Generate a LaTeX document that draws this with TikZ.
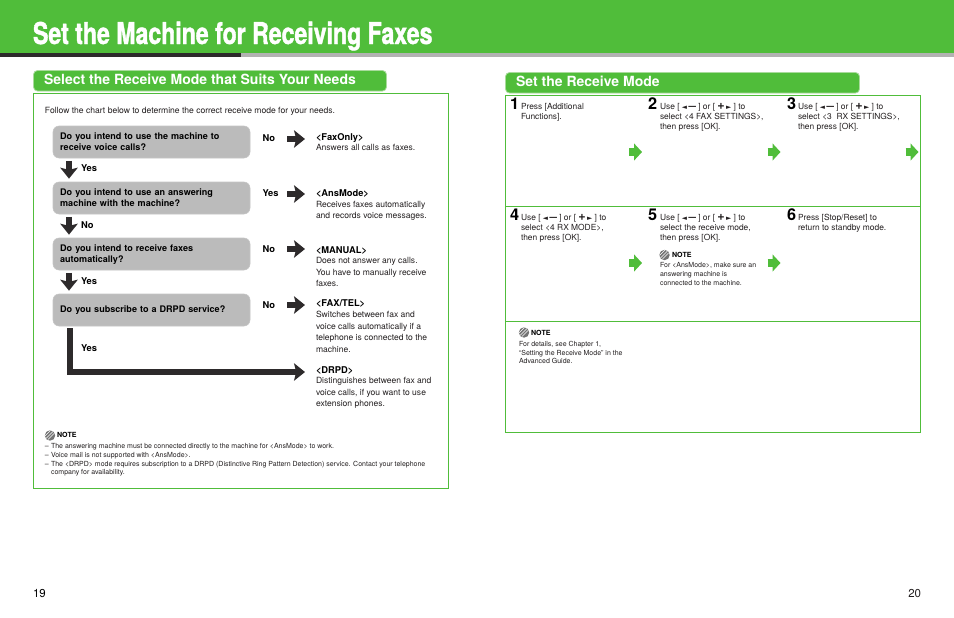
\documentclass[tikz,border=0pt]{standalone}
\usepackage{fontspec}
\usepackage{graphicx}
\usetikzlibrary{arrows.meta,calc}
\setmainfont{TeX Gyre Heros}
\newfontfamily\titlefont[FakeStretch=0.77,FakeBold=1.3]{TeX Gyre Heros Bold}
\newfontfamily\symfont{DejaVu Sans}
\definecolor{cgreen}{HTML}{50BD3A}
\definecolor{crim}{HTML}{A9DB9C}
\definecolor{cdark}{HTML}{2D2A2B}
\definecolor{cstrip}{HTML}{B2B2B2}
\definecolor{cq}{HTML}{BBBBBB}
\definecolor{ctext}{HTML}{231F20}
\newcommand{\keyL}{{\symfont\scalebox{0.8}{◄}}\,{\bfseries\scalebox{1.6}[1.2]{–}}}
\newcommand{\keyR}{{\bfseries\scalebox{1.5}{+}}\,{\symfont\scalebox{0.8}{►}}}
\tikzset{
  x=0.75pt,y=-0.75pt,
  every node/.style={inner sep=0pt,outer sep=0pt,text=ctext},
  frame/.style={draw=cgreen,line width=0.75pt},
  headbar/.style={fill=cgreen,draw=crim,line width=0.6pt,rounded corners=3pt},
  headtext/.style={anchor=base west,text=white,font=\fontsize{10.5}{12}\selectfont\bfseries},
  qbox/.style={fill=cq,draw=cq!85!white,line width=0.4pt,rounded corners=4.5pt,minimum width=147.75pt,minimum height=24pt,
     text width=137pt,align=left,font=\fontsize{6.8}{8.2}\selectfont\bfseries,text=black},
  bl/.style={anchor=base west,font=\fontsize{7}{8}\selectfont\bfseries,text=black},
  modetitle/.style={anchor=base west,font=\fontsize{7}{8}\selectfont\bfseries,text=black},
  body/.style={anchor=north west,align=left,font=\fontsize{6.4}{8.6}\selectfont},
  steptext/.style={anchor=north west,align=left,font=\fontsize{6.3}{7.5}\selectfont},
  notetext/.style={anchor=north west,align=left,font=\fontsize{5.25}{6.6}\selectfont},
  notehead/.style={anchor=base west,font=\fontsize{5.3}{6}\selectfont\bfseries,text=black},
  stepnum/.style={anchor=base west,font=\fontsize{12.2}{13}\selectfont\bfseries,text=black},
  blockarrow/.style={draw=cdark,line width=4.2pt,-{Stealth[inset=1.6pt,length=8.2pt,width=13pt]}},
  greenarrow/.style={draw=cgreen,line width=6pt,-{Triangle[length=6pt,width=12.6pt]}},
  notemark/.pic={
    \fill[black!55] (0,0) circle[radius=3.9pt];
    \draw[white,line width=0.45pt] (-4,3) -- (3,-4) (-2,4) -- (4,-2) (-5,0.5) -- (0.5,-5);
  }
}
\begin{document}
\begin{tikzpicture}
\useasboundingbox (0,0) rectangle (954,618);
\fill[white] (0,0) rectangle (954,618);
% banner
\fill[cgreen] (0,0) rectangle (954,53);
\fill[cdark] (0,53) rectangle (241,57);
\fill[cstrip] (241,53) rectangle (954,57);
\node[anchor=base west,text=white,font=\fontsize{22.5}{24}\titlefont] (title) at (33,44) {Set the Machine for Receiving Faxes};
% left
\path[headbar] (33.5,70.5) rectangle (386.5,91);
\node[headtext] (h1) at (44,84) {Select the Receive Mode that Suits Your Needs};
\draw[frame] (33.5,93.5) rectangle (448.5,488.5);
\node[anchor=base west,font=\fontsize{6.42}{7}\selectfont] (intro) at (45,113) {Follow the chart below to determine the correct receive mode for your needs.};
\node[qbox,anchor=north west] (q1) at (53,126) {Do you intend to use the machine to\\receive voice calls?};
\node[qbox,anchor=north west] (q2) at (53,182) {Do you intend to use an answering\\machine with the machine?};
\node[qbox,anchor=north west] (q3) at (53,238) {\rule{0pt}{5.6pt}Do you intend to receive faxes\\automatically?};
\node[qbox,anchor=north west] (q4) at (53,294) {Do you subscribe to a DRPD service?};
\node[bl] (y1) at (81,171) {Yes};
\node[bl] (y2) at (81,228) {No};
\node[bl] (y3) at (81,284) {Yes};
\node[bl] (y4) at (81,351) {Yes};
\node[bl] (a1) at (262.5,141.5) {No};
\node[bl] (a2) at (262.5,196) {Yes};
\node[bl] (a3) at (262.5,252) {No};
\node[bl] (a4) at (262.5,308.5) {No};
\node[modetitle] (m1) at (316,140) {<FaxOnly>};
\node[body] (d1) at (316,144.5) {Answers all calls as faxes.};
\node[modetitle] (m2) at (316,196) {<AnsMode>};
\node[body] (d2) at (316,201) {Receives faxes automatically\\and records voice messages.};
\node[modetitle] (m3) at (316,253) {<MANUAL>};
\node[body] (d3) at (316,257.5) {Does not answer any calls.\\You have to manually receive\\faxes.};
\node[modetitle] (m4) at (316,306) {<FAX/TEL>};
\node[body] (d4) at (316,311.5) {Switches between fax and\\voice calls automatically if a\\telephone is connected to the\\machine.};
\node[modetitle] (m5) at (316,373) {<DRPD>};
\node[body] (d5) at (316,377.5) {Distinguishes between fax and\\voice calls, if you want to use\\extension phones.};
% flow arrows
\draw[blockarrow] ([xshift=12pt,yshift=-2.2pt]q1.south west) -- ([xshift=12pt,yshift=2.5pt]q2.north west);
\draw[blockarrow] ([xshift=12pt,yshift=-2.2pt]q2.south west) -- ([xshift=12pt,yshift=2.5pt]q3.north west);
\draw[blockarrow] ([xshift=12pt,yshift=-2.2pt]q3.south west) -- ([xshift=12pt,yshift=2.5pt]q4.north west);
\coordinate (r1s) at (287,139); \coordinate (r2s) at (287,194); \coordinate (r3s) at (287,249); \coordinate (r4s) at (287,305);
\coordinate (r1e) at (305,139); \coordinate (r2e) at (305,194); \coordinate (r3e) at (305,249); \coordinate (r4e) at (305,305);
\draw[blockarrow] (r1s) -- (r1e);
\draw[blockarrow] (r2s) -- (r2e);
\draw[blockarrow] (r3s) -- (r3e);
\draw[blockarrow] (r4s) -- (r4e);
\coordinate (d5e) at (305,372);
\draw[blockarrow,line join=miter] ([xshift=12.75pt,yshift=-1.6pt]q4.south west) |- (d5e);
% left note
\pic at (50,435.5) {notemark};
\node[notehead] (n1h) at (57,437.5) {NOTE};
\node[notetext,anchor=base west] (n1d1) at (45,448) {–};
\node[notetext,anchor=base west] (n1a) at (51,448) {The answering machine must be connected directly to the machine for <AnsMode> to work.};
\node[notetext,anchor=base west] (n1d2) at (45,457) {–};
\node[notetext,anchor=base west] (n1b) at (51,457) {Voice mail is not supported with <AnsMode>.};
\node[notetext,anchor=base west] (n1d3) at (45,466) {–};
\node[notetext,anchor=base west] (n1c) at (51,466) {The <DRPD> mode requires subscription to a DRPD (Distinctive Ring Pattern Detection) service. Contact your telephone};
\node[notetext,anchor=base west] (n1e) at (51,474.5) {company for availability.};
% right
\path[headbar] (505.5,72.5) rectangle (859.5,93);
\node[headtext] (h2) at (516,86) {Set the Receive Mode};
\draw[frame] (505.5,95.5) rectangle (920.5,432.5);
\draw[frame] (505.5,206.5) -- (920.5,206.5);
\draw[frame] (505.5,321.5) -- (920.5,321.5);
\node[stepnum] (s1) at (510,109.5) {1};
\node[stepnum] (s2) at (648,109.5) {2};
\node[stepnum] (s3) at (787,109.5) {3};
\node[stepnum] (s4) at (510,220.5) {4};
\node[stepnum] (s5) at (648,220.5) {5};
\node[stepnum] (s6) at (787,220.5) {6};
\node[steptext] (t1) at (521,103) {Press [Additional\\Functions].};
\node[steptext] (t2) at (660,103) {Use [ \keyL\ ] or [ \keyR\ ] to\\select <4 FAX SETTINGS>,\\then press [OK].};
\node[steptext] (t3) at (798,103) {Use [ \keyL\ ] or [ \keyR\ ] to\\select <3\ \ RX SETTINGS>,\\then press [OK].};
\node[steptext] (t4) at (521,214) {Use [ \keyL\ ] or [ \keyR\ ] to\\select <4 RX MODE>,\\then press [OK].};
\node[steptext] (t5) at (660,214) {Use [ \keyL\ ] or [ \keyR\ ] to\\select the receive mode,\\then press [OK].};
\node[steptext] (t6) at (798,214) {Press [Stop/Reset] to\\return to standby mode.};
\foreach \n/\xx/\yy in {1/629/152,2/767.5/152,3/905.5/152,4/629/263,5/767.5/263}{
  \coordinate (g\n s) at (\xx,\yy);
  \coordinate (g\n e) at (\xx+13,\yy);
  \draw[greenarrow] (g\n s) -- (g\n e);
}
\pic at (664.5,255) {notemark};
\node[notehead] (n2h) at (672,257) {NOTE};
\node[notetext,anchor=north west] (n2t) at (660,262.5) {For <AnsMode>, make sure an\\answering machine is\\connected to the machine.};
\pic at (524,332.5) {notemark};
\node[notehead] (n3h) at (531,335) {NOTE};
\node[notetext,anchor=north west] (n3t) at (519,341) {For details, see Chapter 1,\\“Setting the Receive Mode” in the\\Advanced Guide.};
% page numbers
\node[anchor=base west,font=\fontsize{8.6}{10}\selectfont,text=black] (p19) at (33,597) {19};
\node[anchor=base east,font=\fontsize{8.6}{10}\selectfont] (p20) at (921,597) {20};
\end{tikzpicture}
\end{document}
